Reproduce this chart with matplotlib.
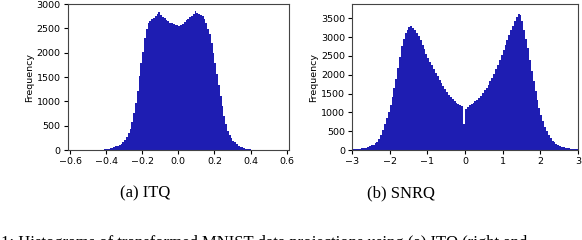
import matplotlib
matplotlib.use("Agg")
import matplotlib.pyplot as plt
import numpy as np

# ITQ projections: bin centres and counts (bin width 0.01)
itq_centers = np.round(np.arange(-0.445, 0.446, 0.01), 3)
itq_counts = [
    0, 0, 2, 8, 15, 20, 28, 35, 45, 58,
    72, 85, 100, 125, 160, 205, 265, 345, 440, 580,
    760, 960, 1220, 1520, 1780, 2020, 2300, 2480, 2600, 2650,
    2690, 2720, 2760, 2790, 2830, 2770, 2740, 2710, 2680, 2660,
    2620, 2600, 2580, 2560, 2570, 2550, 2560, 2590, 2640, 2680,
    2700, 2730, 2760, 2790, 2850, 2810, 2790, 2770, 2750, 2690,
    2610, 2480, 2390, 2200, 2000, 1790, 1570, 1340, 1110, 900,
    700, 540, 400, 310, 240, 190, 160, 120, 90, 70,
    52, 38, 28, 20, 12, 6, 2, 0, 0, 0,
]

# SNRQ projections: bin centres and counts (bin width 0.05)
snrq_centers = np.round(np.arange(-2.975, 2.976, 0.05), 3)
snrq_counts = [
    15, 18, 22, 27, 33, 42, 52, 65, 82, 100,
    120, 145, 180, 225, 300, 400, 530, 700, 850, 1020,
    1200, 1410, 1650, 1900, 2180, 2480, 2760, 2960, 3120, 3200,
    3260, 3300, 3250, 3200, 3120, 3040, 2930, 2800, 2680, 2560,
    2440, 2340, 2250, 2150, 2050, 1960, 1870, 1790, 1700, 1620,
    1540, 1470, 1400, 1350, 1300, 1250, 1220, 1190, 1170, 700,
    1080, 1150, 1190, 1220, 1250, 1300, 1340, 1380, 1440, 1520,
    1590, 1660, 1740, 1830, 1920, 2020, 2150, 2270, 2400, 2520,
    2660, 2790, 2930, 3060, 3180, 3300, 3420, 3530, 3620, 3580,
    3420, 3180, 2960, 2700, 2400, 2100, 1830, 1580, 1330, 1110,
    930, 770, 620, 500, 400, 320, 250, 200, 160, 130,
    105, 88, 73, 60, 50, 42, 35, 28, 22, 16,
]

itq_ticks = [-0.6, -0.4, -0.2, 0.0, 0.2, 0.4, 0.6]
snrq_ticks = [-3, -2, -1, 0, 1, 2, 3]

BAR_COLOR = "#0504aa"


def edges_from_centers(centers):
    centers = np.asarray(centers, dtype=float)
    w = centers[1] - centers[0]
    return np.append(centers - w/2, centers[-1] + w/2)


def draw_hist(ax, centers, counts):
    ax.hist(centers, bins=edges_from_centers(centers), weights=counts,
            color=BAR_COLOR, alpha=0.9, linewidth=0)
    ax.set_ylabel("Frequency", fontsize=6.8, labelpad=2)
    ax.tick_params(labelsize=6.8, length=3, width=0.8, pad=2)
    for sp in ax.spines.values():
        sp.set_color("#444444")


def main():
    fig = plt.figure(figsize=(5.82, 2.40), dpi=100)

    ax1 = fig.add_axes([0.1163, 0.375, 0.3802, 0.6083])
    draw_hist(ax1, itq_centers, itq_counts)
    ax1.set_xlim(-0.613, 0.613)
    ax1.set_ylim(0, 3000)
    ax1.set_xticks(itq_ticks)
    ax1.set_yticks(np.arange(0, 3001, 500))

    ax2 = fig.add_axes([0.6048, 0.375, 0.3883, 0.6083])
    draw_hist(ax2, snrq_centers, snrq_counts)
    ax2.set_xlim(-3, 3)
    ax2.set_ylim(0, 3880)
    ax2.set_xticks(snrq_ticks)
    ax2.set_yticks(np.arange(0, 3501, 500))

    serif = ["Liberation Serif", "DejaVu Serif"]
    fig.text(145/582, 1 - 193/240, "(a) ITQ", ha="center", va="center",
             fontsize=12, family=serif)
    fig.text(401/582, 1 - 193/240, "(b) SNRQ", ha="center", va="center",
             fontsize=12, family=serif)
    fig.text(1/582, 1 - 235/240,
             "1: Histograms of transformed MNIST data projections using (a) ITQ (right and",
             ha="left", va="top", fontsize=12, family=serif)

    fig.savefig("out.png", dpi=100)
    plt.close(fig)


if __name__ == "__main__":
    main()
